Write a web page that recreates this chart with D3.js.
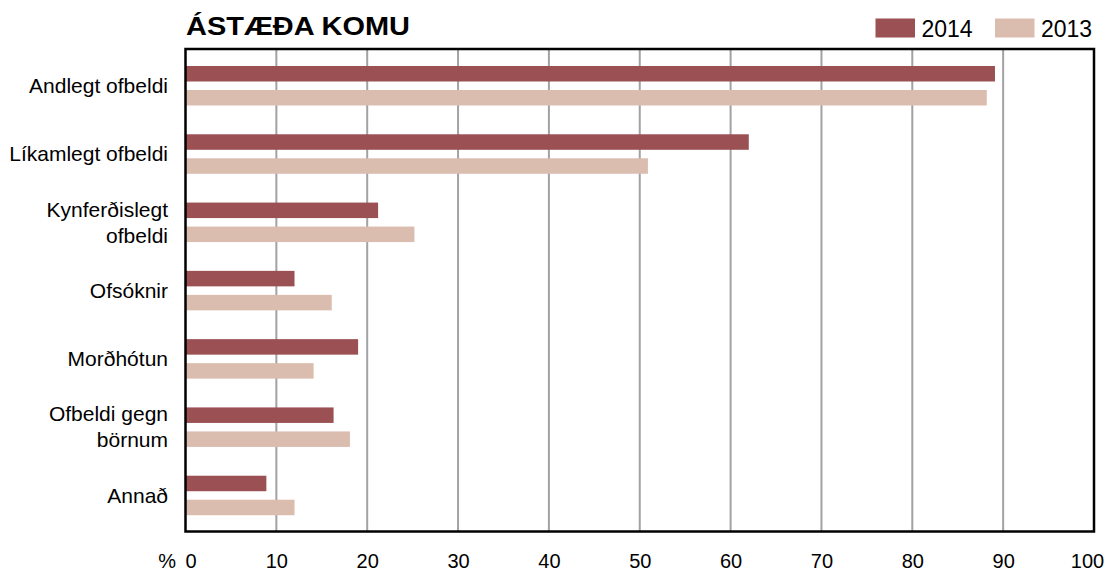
<!DOCTYPE html>
<html>
<head>
<meta charset="utf-8">
<script src="https://cdn.jsdelivr.net/npm/d3@7"></script>
<style>
  body { margin: 0; background: #fff; }
  text { font-family: "Liberation Sans", Arial, Helvetica, sans-serif; fill: #000; }
</style>
</head>
<body>
<div id="chart"></div>
<script>
// data
let categories = ["Andlegt ofbeldi", "Líkamlegt ofbeldi", "Kynferðislegt ofbeldi", "Ofsóknir", "Morðhótun", "Ofbeldi gegn börnum", "Annað"];
let labelLines = [["Andlegt ofbeldi"], ["Líkamlegt ofbeldi"], ["Kynferðislegt", "ofbeldi"], ["Ofsóknir"], ["Morðhótun"], ["Ofbeldi gegn", "börnum"], ["Annað"]];
let values2014 = [89.1, 62.0, 21.2, 12.0, 19.0, 16.3, 8.9];
let values2013 = [88.2, 50.9, 25.2, 16.1, 14.1, 18.1, 12.0];
let xTicks = [0, 10, 20, 30, 40, 50, 60, 70, 80, 90, 100];
let seriesNames = ["2014", "2013"];
let colors = ["#9b5053", "#dbbdb0"];

let svgWidth = 1109;
let svgHeight = 574;

let plot = { left: 185.5, right: 1094, top: 49, bottom: 531.5 };

let svg = d3.select("#chart")
    .append("svg")
    .attr("width", svgWidth)
    .attr("height", svgHeight);

let xScale = d3.scaleLinear()
    .domain([0, 100])
    .range([plot.left, plot.right]);

let yScale = d3.scaleBand()
    .domain(categories)
    .range([52, 530]);

// gridlines
svg.append("g")
    .selectAll("line")
    .data(xTicks.slice(1, -1))
    .enter()
    .append("line")
    .attr("x1", d => xScale(d))
    .attr("x2", d => xScale(d))
    .attr("y1", plot.top)
    .attr("y2", plot.bottom)
    .attr("stroke", "#a2a2a6")
    .attr("stroke-width", 2);

// bars
let barH = 15.5;
let bars = svg.append("g");
bars.selectAll("rect.b2014")
    .data(categories)
    .enter()
    .append("rect")
    .attr("class", "b2014")
    .attr("x", xScale(0))
    .attr("y", d => yScale(d) + 14)
    .attr("width", (d, i) => xScale(values2014[i]) - xScale(0))
    .attr("height", barH)
    .attr("fill", colors[0]);

bars.selectAll("rect.b2013")
    .data(categories)
    .enter()
    .append("rect")
    .attr("class", "b2013")
    .attr("x", xScale(0))
    .attr("y", d => yScale(d) + 38)
    .attr("width", (d, i) => xScale(values2013[i]) - xScale(0))
    .attr("height", barH)
    .attr("fill", colors[1]);

// frame
svg.append("rect")
    .attr("x", plot.left)
    .attr("y", plot.top)
    .attr("width", plot.right - plot.left)
    .attr("height", plot.bottom - plot.top)
    .attr("fill", "none")
    .attr("stroke", "#000")
    .attr("stroke-width", 2.5);

// x axis labels
let xAxis = d3.axisBottom(xScale)
    .tickValues(xTicks)
    .tickSize(0)
    .tickPadding(0);

let xg = svg.append("g")
    .attr("transform", `translate(0, ${plot.bottom})`)
    .call(xAxis);
xg.select(".domain").remove();
xg.selectAll("text")
    .attr("font-size", "20px")
    .attr("font-family", null)
    .attr("fill", "#000")
    .attr("dy", null)
    .attr("y", 36)
    .attr("dx", d => d === 0 ? 5 : (d === 100 ? -7 : 0));

svg.append("text")
    .attr("x", 176)
    .attr("y", plot.bottom + 36)
    .attr("text-anchor", "end")
    .attr("font-size", "20px")
    .text("%");

// category labels
let labels = svg.append("g");
categories.forEach(function (c, i) {
    let mid = yScale(c) + 34;
    let lines = labelLines[i];
    let t = labels.append("text")
        .attr("text-anchor", "end")
        .attr("font-size", "21px");
    lines.forEach(function (ln, j) {
        let base = lines.length === 1 ? mid + 7 : mid - 6 + j * 26;
        t.append("tspan")
            .attr("x", 168)
            .attr("y", base)
            .text(ln);
    });
});

// title
svg.append("text")
    .attr("x", 186)
    .attr("y", 35)
    .attr("font-size", "25px")
    .attr("font-weight", "bold")
    .attr("textLength", 224)
    .attr("lengthAdjust", "spacingAndGlyphs")
    .text("ÁSTÆÐA KOMU");

// legend
let legendX = [875.5, 995];
let legend = svg.append("g");
seriesNames.forEach(function (s, i) {
    legend.append("rect")
        .attr("x", legendX[i])
        .attr("y", 18.5)
        .attr("width", 39.5)
        .attr("height", 19)
        .attr("fill", colors[i]);
    legend.append("text")
        .attr("x", legendX[i] + 46)
        .attr("y", 37)
        .attr("font-size", "23px")
        .text(s);
});
</script>
</body>
</html>
